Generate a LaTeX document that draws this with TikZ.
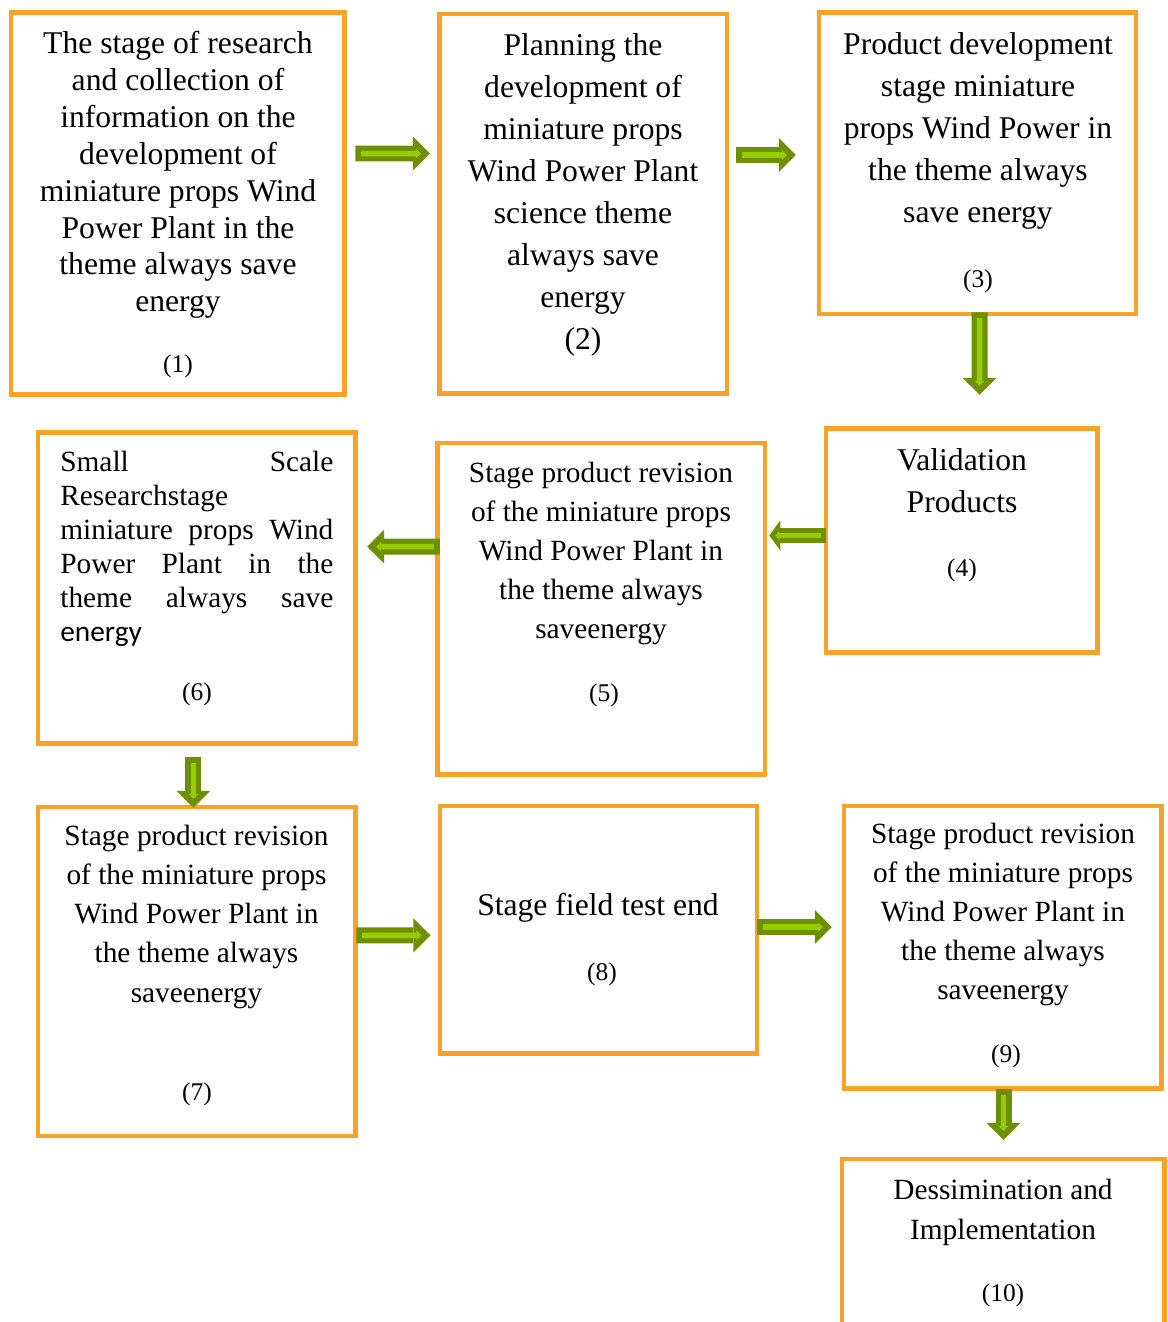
\documentclass[tikz,border=0pt]{standalone}
\usepackage{fontspec}
\setmainfont{Liberation Serif}
\newfontfamily\carlito{Carlito}
\usetikzlibrary{arrows.meta,calc}
\newdimen\px \px=0.02cm
\definecolor{boxorange}{RGB}{250,162,40}
\definecolor{adark}{RGB}{108,144,0}
\definecolor{alight}{RGB}{153,204,0}
\newcommand\garrow[2]{\draw[arrowout] #1 -- #2; \draw[arrowin] #1 -- #2;}
\begin{document}
\begin{tikzpicture}[x=0.02cm,y=-0.02cm,
  stagebox/.style 2 args={draw=boxorange, line width=4.5\px, rectangle, inner sep=0pt,
    minimum width=#1\px, minimum height=#2\px},
  txt/.style={inner sep=0pt, align=center, anchor=north},
  fbig/.style={font={\fontsize{18}{#1}\selectfont}},
  fmid/.style={font={\fontsize{16.7}{#1}\selectfont}},
  num/.style={inner sep=0pt, anchor=base, font={\fontsize{14.5}{17}\selectfont}},
  arrowout/.style={draw=adark, line width=9.1pt,
    -{Triangle[length=9.67pt,width=19.35pt,line width=0pt]}},
  arrowoutsmall/.style={draw=adark, line width=8.54pt,
    -{Triangle[length=6.26pt,width=17.07pt,line width=0pt]}},
  arrowin/.style={draw=alight, line width=3.13pt, shorten <=3.41pt, shorten >=5.12pt,
    -{Triangle[length=2.85pt,width=5.69pt,line width=0pt]}},
  arrowinsmall/.style={draw=alight, line width=2.85pt, shorten <=2.85pt, shorten >=3.41pt,
    -{Triangle[length=2.28pt,width=5.12pt,line width=0pt]}},
]
\useasboundingbox (0,0) rectangle (1168,1322);

% boxes
\node[stagebox={333.5}{382}]   (b1) at (177.75,203.5) {};
\node[stagebox={287.5}{379.7}] (b2) at (583.25,203.85) {};
\node[stagebox={317}{301.5}]   (b3) at (977.5,163.25) {};
\node[stagebox={271.5}{224}]   (b4) at (961.75,540.5) {};
\node[stagebox={327.5}{331.5}] (b5) at (601.25,608.75) {};
\node[stagebox={317.5}{311}]   (b6) at (196.75,588) {};
\node[stagebox={317.5}{329}]   (b7) at (196.75,971.5) {};
\node[stagebox={317}{247.3}]   (b8) at (598.5,929.65) {};
\node[stagebox={317.3}{282.7}] (b9) at (1002.65,947.35) {};
\node[stagebox={318}{179}, draw=none] (b10) at (1003,1250.5) {};
\draw[draw=boxorange, line width=4.5\px] (b10.south west) -- (b10.north west) -- (b10.north east) -- (b10.south east);

% texts
\node[txt, fbig=21] (t1) at (178,31) {The stage of research\\and collection of\\information on the\\development of\\miniature props Wind\\Power Plant in the\\theme always save\\energy};
\node[num] (n1) at (178,372) {(1)};

\node[txt, fbig=23.9] (t2) at (583,33) {Planning the\\development of\\miniature props\\Wind Power Plant\\science theme\\always save\\energy\\(2)};

\node[txt, fbig=24] (t3) at (978,32) {Product development\\stage miniature\\props Wind Power in\\the theme always\\save energy};
\node[num] (n3) at (978,287.5) {(3)};

\node[txt, fbig=23.9] (t4) at (962,448) {Validation\\Products};
\node[num] (n4) at (962,576) {(4)};

\node[txt, fmid=22.2] (t5) at (601,461.6) {Stage product revision\\of the miniature props\\Wind Power Plant in\\the theme always\\saveenergy};
\node[num] (n5) at (604,701) {(5)};

\node[inner sep=0pt, anchor=north west, align=left, fmid=19.35] (t6) at (60,450.6)
  {\makebox[273\px][s]{Small Scale}\\Researchstage\\\makebox[273\px][s]{miniature props Wind}\\\makebox[273\px][s]{Power Plant in the}\\\makebox[273\px][s]{theme always save}\\{\carlito energy}};
\node[num] (n6) at (197,700) {(6)};

\node[txt, fmid=22.3] (t7) at (196.5,824.6) {Stage product revision\\of the miniature props\\Wind Power Plant in\\the theme always\\saveenergy};
\node[num] (n7) at (197,1100) {(7)};

\node[inner sep=0pt, anchor=base, fbig=21] (t8) at (598,915) {Stage field test end};
\node[num] (n8) at (602,980) {(8)};

\node[txt, fmid=22.2] (t9) at (1003,822.6) {Stage product revision\\of the miniature props\\Wind Power Plant in\\the theme always\\saveenergy};
\node[num] (n9) at (1006,1062) {(9)};

\node[txt, fmid=22.8] (t10) at (1003,1178.6) {Dessimination and\\Implementation};
\node[num] (n10) at (1003,1301) {(10)};

% arrows
\garrow{($(b1.east)+(8.5,-50)$)}{($(b2.west)+(-7.5,-50.35)$)}
\garrow{($(b2.east)+(7,-48.85)$)}{($(b3.west)+(-21,-8.25)$)}
\garrow{($(b3.south)+(2,-4)$)}{($(b4.north)+(17.75,-31.5)$)}
\garrow{($(b5.west)+(4.5,-62.25)$)}{($(b6.east)+(9.5,-41.5)$)}
\garrow{($(b6.south)+(-3.45,10.8)$)}{($(b7.north)+(-3.45,3)$)}
\garrow{($(b7.east)+(-1.5,-36.2)$)}{($(b8.west)+(-7.3,5.65)$)}
\garrow{($(b8.east)+(-2,-2.65)$)}{($(b9.west)+(-10,-20.35)$)}
\garrow{($(b9.south)+(0.85,-1.7)$)}{($(b10.north)+(0.5,-19)$)}
\draw[arrowoutsmall] ($(b4.west)+(2,-5)$) -- ($(b5.east)+(2,-73.25)$);
\draw[arrowinsmall] ($(b4.west)+(2,-5)$) -- ($(b5.east)+(2,-73.25)$);
\end{tikzpicture}
\end{document}
